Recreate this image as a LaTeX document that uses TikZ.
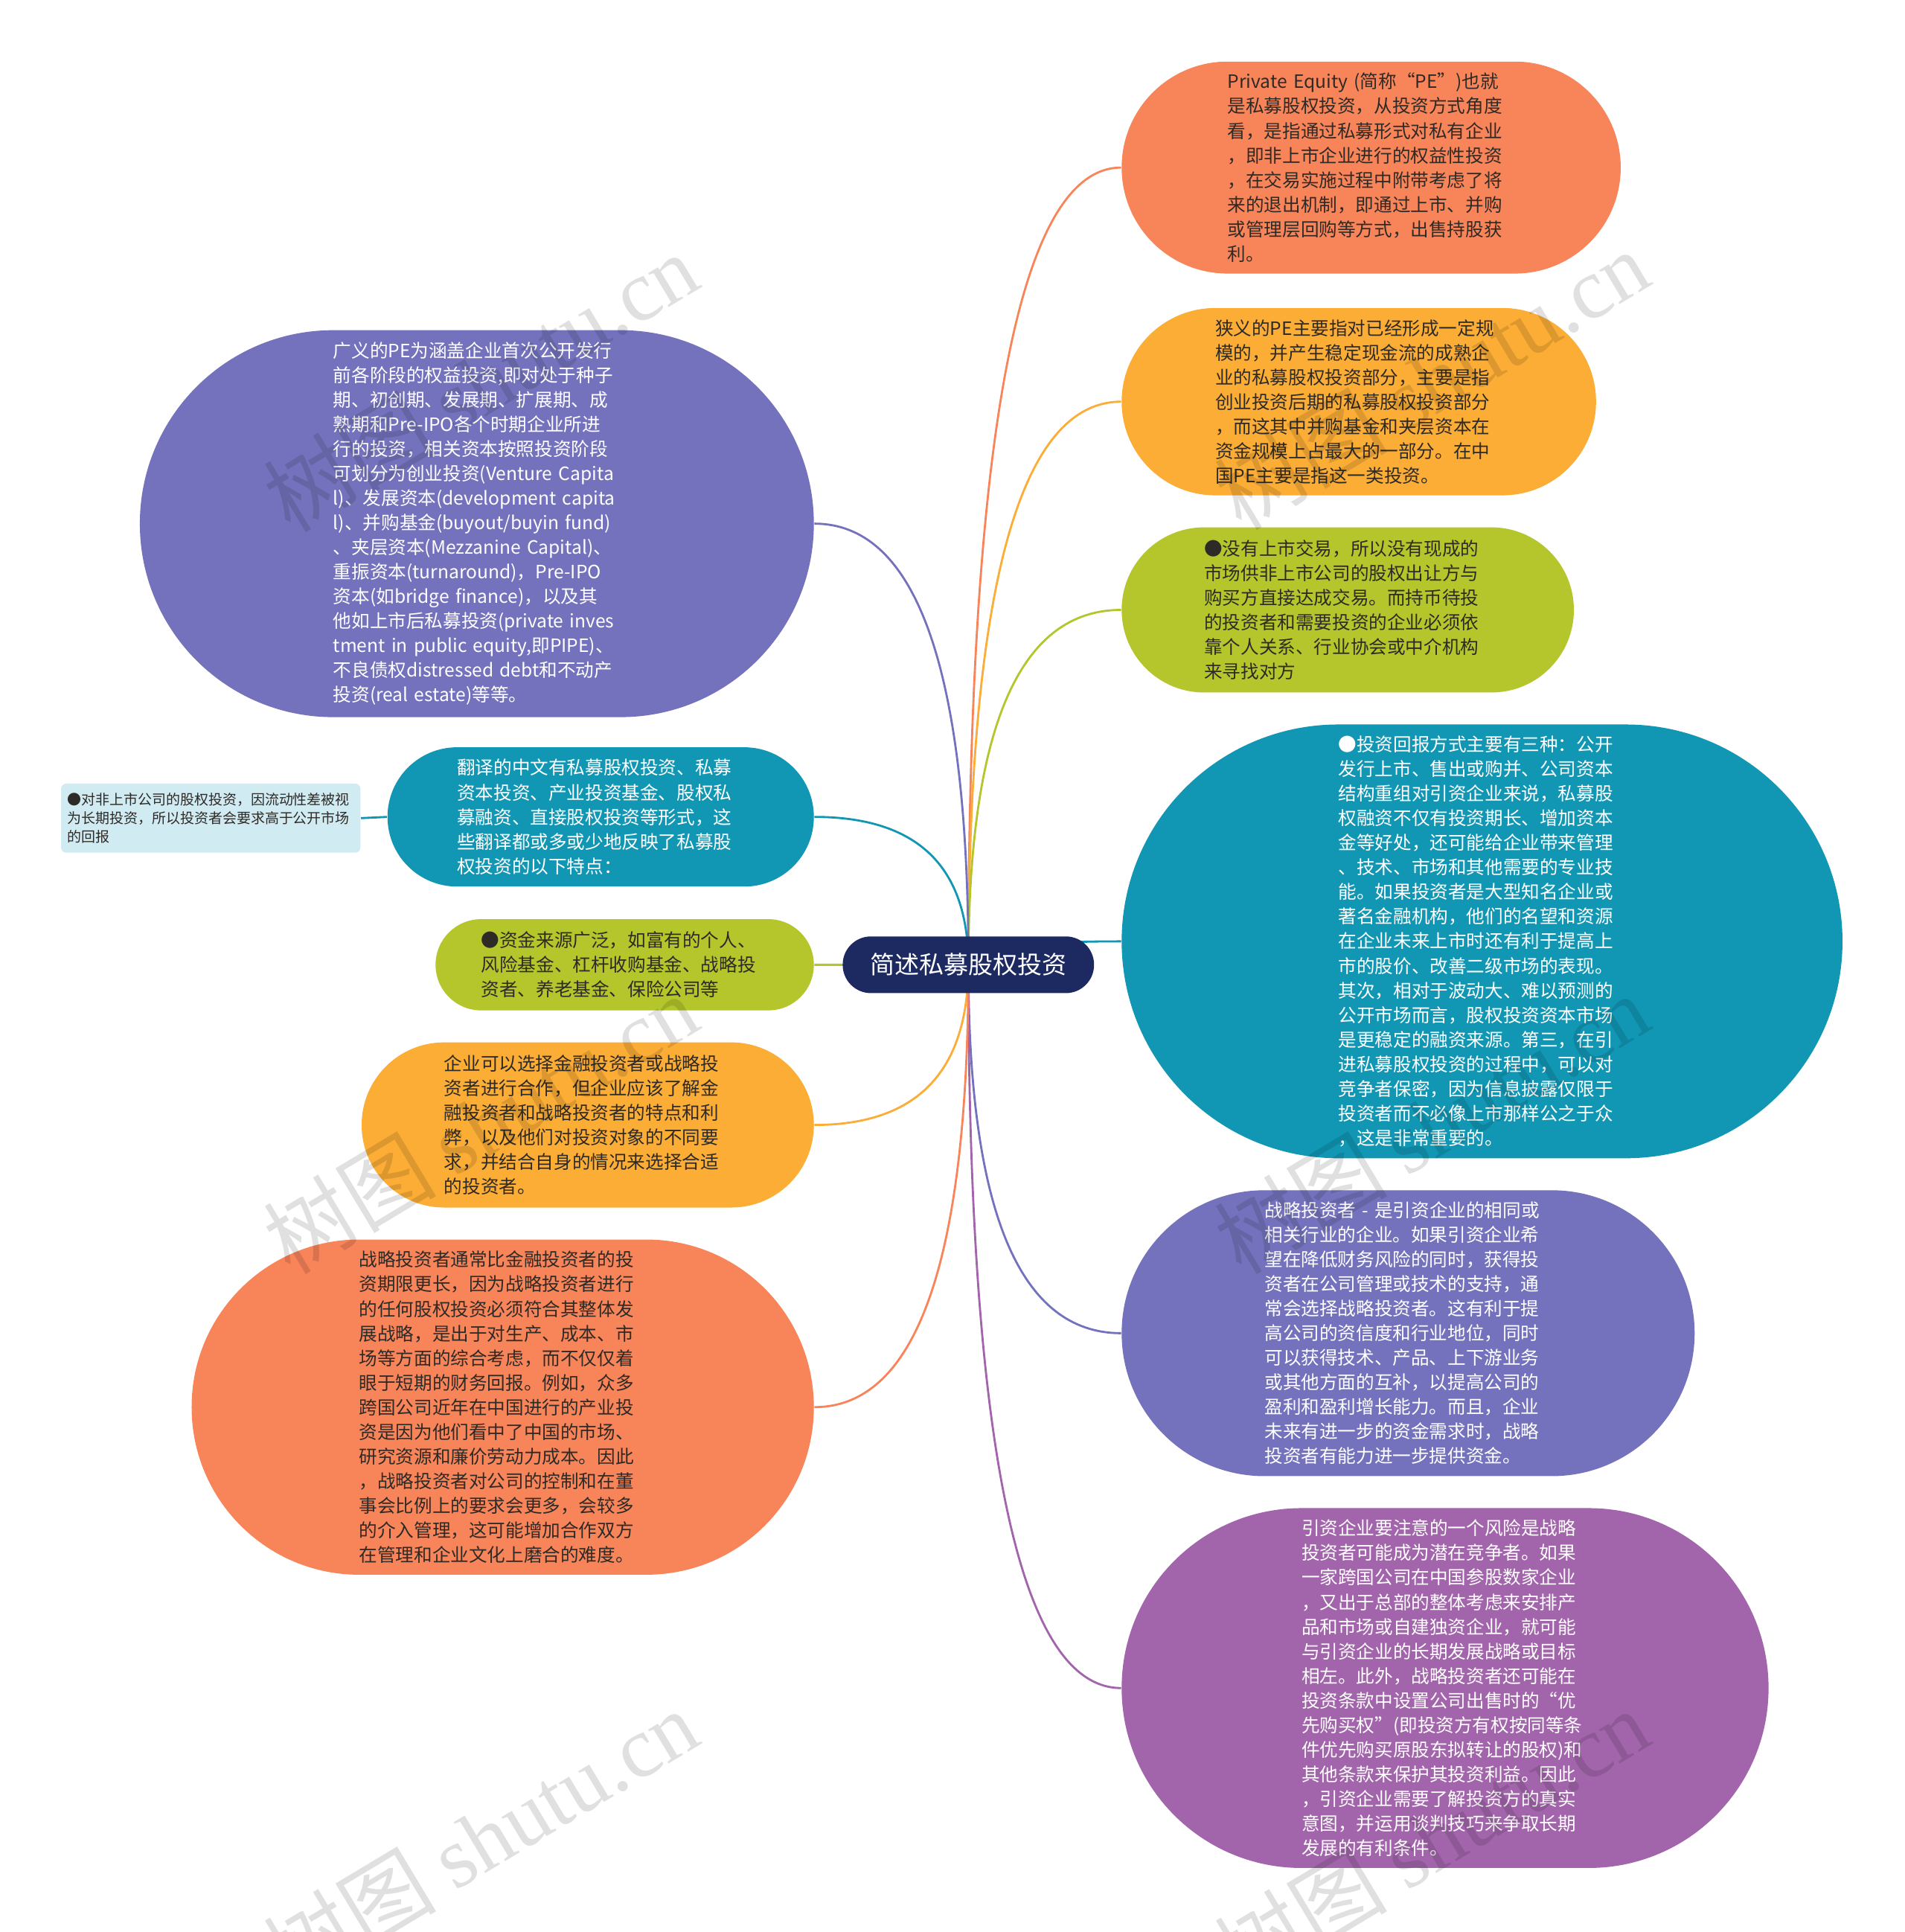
\documentclass[tikz,border=0pt]{standalone}
\usepackage{fontspec}
\setmainfont{Noto Sans CJK SC}
\newfontfamily\wmfont{Liberation Serif}
\usepackage{xcolor}
\usetikzlibrary{calc,backgrounds}

\definecolor{coral}{HTML}{F8845A}
\definecolor{amber}{HTML}{FBAD36}
\definecolor{lime}{HTML}{B4C62B}
\definecolor{teal}{HTML}{1197B4}
\definecolor{lavender}{HTML}{7472BC}
\definecolor{violet}{HTML}{A264AA}
\definecolor{paleblue}{HTML}{D1EBF3}
\definecolor{navy}{HTML}{1D2A61}
\definecolor{ink}{HTML}{2E2A26}
\newcommand\pxu{0.4711pt}

\begin{document}
\begin{tikzpicture}[
    x=0.016558cm, y=-0.016558cm,
    idea/.style={rectangle, rounded corners=#1*0.5*\pxu-0.05pt, minimum height=#1*\pxu, minimum width=(233+#1)*\pxu, text width=233*\pxu, inner xsep=0pt, inner ysep=1pt, align=left, font=\fontsize{7pt}{9.4pt}\selectfont},
    dark/.style={text=ink},
    light/.style={text=white},
    link/.style={line width=0.8pt},
    wmark/.style={font=\fontsize{33pt}{33pt}\selectfont, text=black, text opacity=0.12, rotate=31}
]
    \useasboundingbox (0,0) rectangle (1546,1568);

    % Centre
    \node[rectangle, rounded corners=23*\pxu-0.05pt, fill=navy, text=white, minimum height=46*\pxu, minimum width=204*\pxu, font=\fontsize{9.4pt}{11pt}\selectfont] (hub) at (786,783) {简述私募股权投资};

    % Right branches
    \node[idea=172, dark, fill=coral, anchor=west] (pe) at (910,136) {Private Equity (简称“PE”)也就\\是私募股权投资，从投资方式角度\\看，是指通过私募形式对私有企业\\，即非上市企业进行的权益性投资\\，在交易实施过程中附带考虑了将\\来的退出机制，即通过上市、并购\\或管理层回购等方式，出售持股获\\利。};
    \node[idea=152, dark, fill=amber, anchor=west] (narrow) at (910,326) {狭义的PE主要指对已经形成一定规\\模的，并产生稳定现金流的成熟企\\业的私募股权投资部分，主要是指\\创业投资后期的私募股权投资部分\\，而这其中并购基金和夹层资本在\\资金规模上占最大的一部分。在中\\国PE主要是指这一类投资。};
    \node[idea=134, dark, fill=lime, anchor=west] (nomarket) at (910,495) {●没有上市交易，所以没有现成的\\市场供非上市公司的股权出让方与\\购买方直接达成交易。而持币待投\\的投资者和需要投资的企业必须依\\靠个人关系、行业协会或中介机构\\来寻找对方};
    \node[idea=352, light, fill=teal, anchor=west] (returns) at (910,764) {●投资回报方式主要有三种：公开\\发行上市、售出或购并、公司资本\\结构重组对引资企业来说，私募股\\权融资不仅有投资期长、增加资本\\金等好处，还可能给企业带来管理\\、技术、市场和其他需要的专业技\\能。如果投资者是大型知名企业或\\著名金融机构，他们的名望和资源\\在企业未来上市时还有利于提高上\\市的股价、改善二级市场的表现。\\其次，相对于波动大、难以预测的\\公开市场而言，股权投资资本市场\\是更稳定的融资来源。第三，在引\\进私募股权投资的过程中，可以对\\竞争者保密，因为信息披露仅限于\\投资者而不必像上市那样公之于众\\，这是非常重要的。};
    \node[idea=232, light, fill=lavender, anchor=west] (strategic) at (910,1082) {战略投资者 - 是引资企业的相同或\\相关行业的企业。如果引资企业希\\望在降低财务风险的同时，获得投\\资者在公司管理或技术的支持，通\\常会选择战略投资者。这有利于提\\高公司的资信度和行业地位，同时\\可以获得技术、产品、上下游业务\\或其他方面的互补，以提高公司的\\盈利和盈利增长能力。而且，企业\\未来有进一步的资金需求时，战略\\投资者有能力进一步提供资金。};
    \node[idea=292, light, fill=violet, anchor=west] (risk) at (910,1370) {引资企业要注意的一个风险是战略\\投资者可能成为潜在竞争者。如果\\一家跨国公司在中国参股数家企业\\，又出于总部的整体考虑来安排产\\品和市场或自建独资企业，就可能\\与引资企业的长期发展战略或目标\\相左。此外，战略投资者还可能在\\投资条款中设置公司出售时的“优\\先购买权”(即投资方有权按同等条\\件优先购买原股东拟转让的股权)和\\其他条款来保护其投资利益。因此\\，引资企业需要了解投资方的真实\\意图，并运用谈判技巧来争取长期\\发展的有利条件。};

    % Left branches
    \node[idea=314, light, fill=lavender, anchor=east] (broad) at (661,425) {广义的PE为涵盖企业首次公开发行\\前各阶段的权益投资,即对处于种子\\期、初创期、发展期、扩展期、成\\熟期和Pre-IPO各个时期企业所进\\行的投资，相关资本按照投资阶段\\可划分为创业投资(Venture Capita\\l)、发展资本(development capita\\l)、并购基金(buyout/buyin fund)\\、夹层资本(Mezzanine Capital)、\\重振资本(turnaround)，Pre-IPO\\资本(如bridge finance)，以及其\\他如上市后私募投资(private inves\\tment in public equity,即PIPE)、\\不良债权distressed debt和不动产\\投资(real estate)等等。};
    \node[idea=113, light, fill=teal, anchor=east] (trans) at (661,663) {翻译的中文有私募股权投资、私募\\资本投资、产业投资基金、股权私\\募融资、直接股权投资等形式，这\\些翻译都或多或少地反映了私募股\\权投资的以下特点：};
    \node[rectangle, rounded corners=2pt, fill=paleblue, text=ink, text width=233*\pxu, inner xsep=5*\pxu, inner ysep=1pt, minimum height=56*\pxu, align=left, font=\fontsize{5.4pt}{7.1pt}\selectfont, anchor=east] (longterm) at (293,664) {●对非上市公司的股权投资，因流动性差被视\\为长期投资，所以投资者会要求高于公开市场\\的回报};
    \node[idea=74, dark, fill=lime, anchor=east] (funds) at (661,783) {●资金来源广泛，如富有的个人、\\风险基金、杠杆收购基金、战略投\\资者、养老基金、保险公司等};
    \node[idea=134, dark, fill=amber, anchor=east] (choose) at (661,913) {企业可以选择金融投资者或战略投\\资者进行合作，但企业应该了解金\\融投资者和战略投资者的特点和利\\弊，以及他们对投资对象的不同要\\求，并结合自身的情况来选择合适\\的投资者。};
    \node[idea=272, dark, fill=coral, anchor=east] (horizon) at (661,1142) {战略投资者通常比金融投资者的投\\资期限更长，因为战略投资者进行\\的任何股权投资必须符合其整体发\\展战略，是出于对生产、成本、市\\场等方面的综合考虑，而不仅仅着\\眼于短期的财务回报。例如，众多\\跨国公司近年在中国进行的产业投\\资是因为他们看中了中国的市场、\\研究资源和廉价劳动力成本。因此\\，战略投资者对公司的控制和在董\\事会比例上的要求会更多，会较多\\的介入管理，这可能增加合作双方\\在管理和企业文化上磨合的难度。};

    % Connectors
    \begin{scope}[on background layer]
        \fill[white] (0,0) rectangle (1546,1568);
        \foreach \tgt/\col in {pe/coral, narrow/amber, nomarket/lime, returns/teal, strategic/lavender, risk/violet}
            \draw[link, \col] (hub.center) .. controls ($(hub.center)!0.667!(hub.center |- \tgt.west)$) and ($(\tgt.west)!0.667!(hub.center |- \tgt.west)$) .. (\tgt.west);
        \foreach \tgt/\col in {broad/lavender, trans/teal, funds/lime, choose/amber, horizon/coral}
            \draw[link, \col] (hub.center) .. controls ($(hub.center)!0.667!(hub.center |- \tgt.east)$) and ($(\tgt.east)!0.667!(hub.center |- \tgt.east)$) .. (\tgt.east);
        \draw[link, teal] (trans.west) -- (longterm.east);
    \end{scope}

    % Watermarks
    \foreach \wx/\wy [count=\i] in {390/310, 1162/308, 390/912, 1162/912, 390/1492, 1162/1492}
        \node[wmark] (wm\i) at (\wx,\wy) {树图 {\wmfont shutu.cn}};
\end{tikzpicture}
\end{document}
